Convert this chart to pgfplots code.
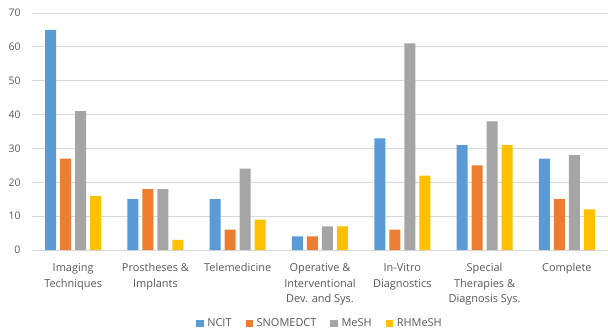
\documentclass[border=0pt]{standalone}
\usepackage{pgfplots}
\pgfplotsset{compat=1.18}
\usepackage{fontspec}
\setmainfont{Open Sans}

\definecolor{cNCIT}{HTML}{5B9BD5}
\definecolor{cSNOMED}{HTML}{ED7D31}
\definecolor{cMeSH}{HTML}{A5A5A5}
\definecolor{cRHMeSH}{HTML}{FFC000}
\definecolor{txt}{HTML}{595959}
\definecolor{grid}{HTML}{D9D9D9}

\begin{document}
\begin{tikzpicture}
\useasboundingbox (-32bp,-81bp) rectangle (576bp,250bp);
\begin{axis}[
  scale only axis,
  width=576bp, height=237bp,
  ybar=4bp, bar width=11bp,
  xmin=-0.5, xmax=6.5,
  ymin=0, ymax=70, ytick distance=10,
  xtick=data,
  xticklabels={{Imaging\\Techniques},{Prostheses \&\\Implants},{Telemedicine},{Operative \&\\Interventional\\Dev. and Sys.},{In-Vitro\\Diagnostics},{Special\\Therapies \&\\Diagnosis Sys.},{Complete}},
  x tick label style={align=center, font=\fontsize{11}{15.5}\selectfont, text=txt, yshift=-10bp},
  y tick label style={font=\fontsize{10.5}{12}\selectfont, text=txt, xshift=-8bp},
  /pgf/number format/assume math mode=true,
  axis line style={draw=none},
  major tick length=0pt,
  ymajorgrids, grid style={draw=grid, line width=0.9bp},
  legend style={at={(0.5,-0.31)}, anchor=center, draw=none, legend columns=-1,
    font=\fontsize{11}{12}\selectfont, text=txt,
    /tikz/every odd column/.append style={column sep=1.5bp},
    /tikz/every even column/.append style={column sep=12bp}},
  legend image code/.code={\fill[#1] (0bp,-3.8bp) rectangle (7.6bp,3.8bp);},
  clip=false,
]
\addplot[fill=cNCIT, draw=none] coordinates {(0,65) (1,15) (2,15) (3,4) (4,33) (5,31) (6,27)};
\addplot[fill=cSNOMED, draw=none] coordinates {(0,27) (1,18) (2,6) (3,4) (4,6) (5,25) (6,15)};
\addplot[fill=cMeSH, draw=none] coordinates {(0,41) (1,18) (2,24) (3,7) (4,61) (5,38) (6,28)};
\addplot[fill=cRHMeSH, draw=none] coordinates {(0,16) (1,3) (2,9) (3,7) (4,22) (5,31) (6,12)};
\legend{NCIT,SNOMEDCT,MeSH,RHMeSH}
\end{axis}
\end{tikzpicture}
\end{document}
